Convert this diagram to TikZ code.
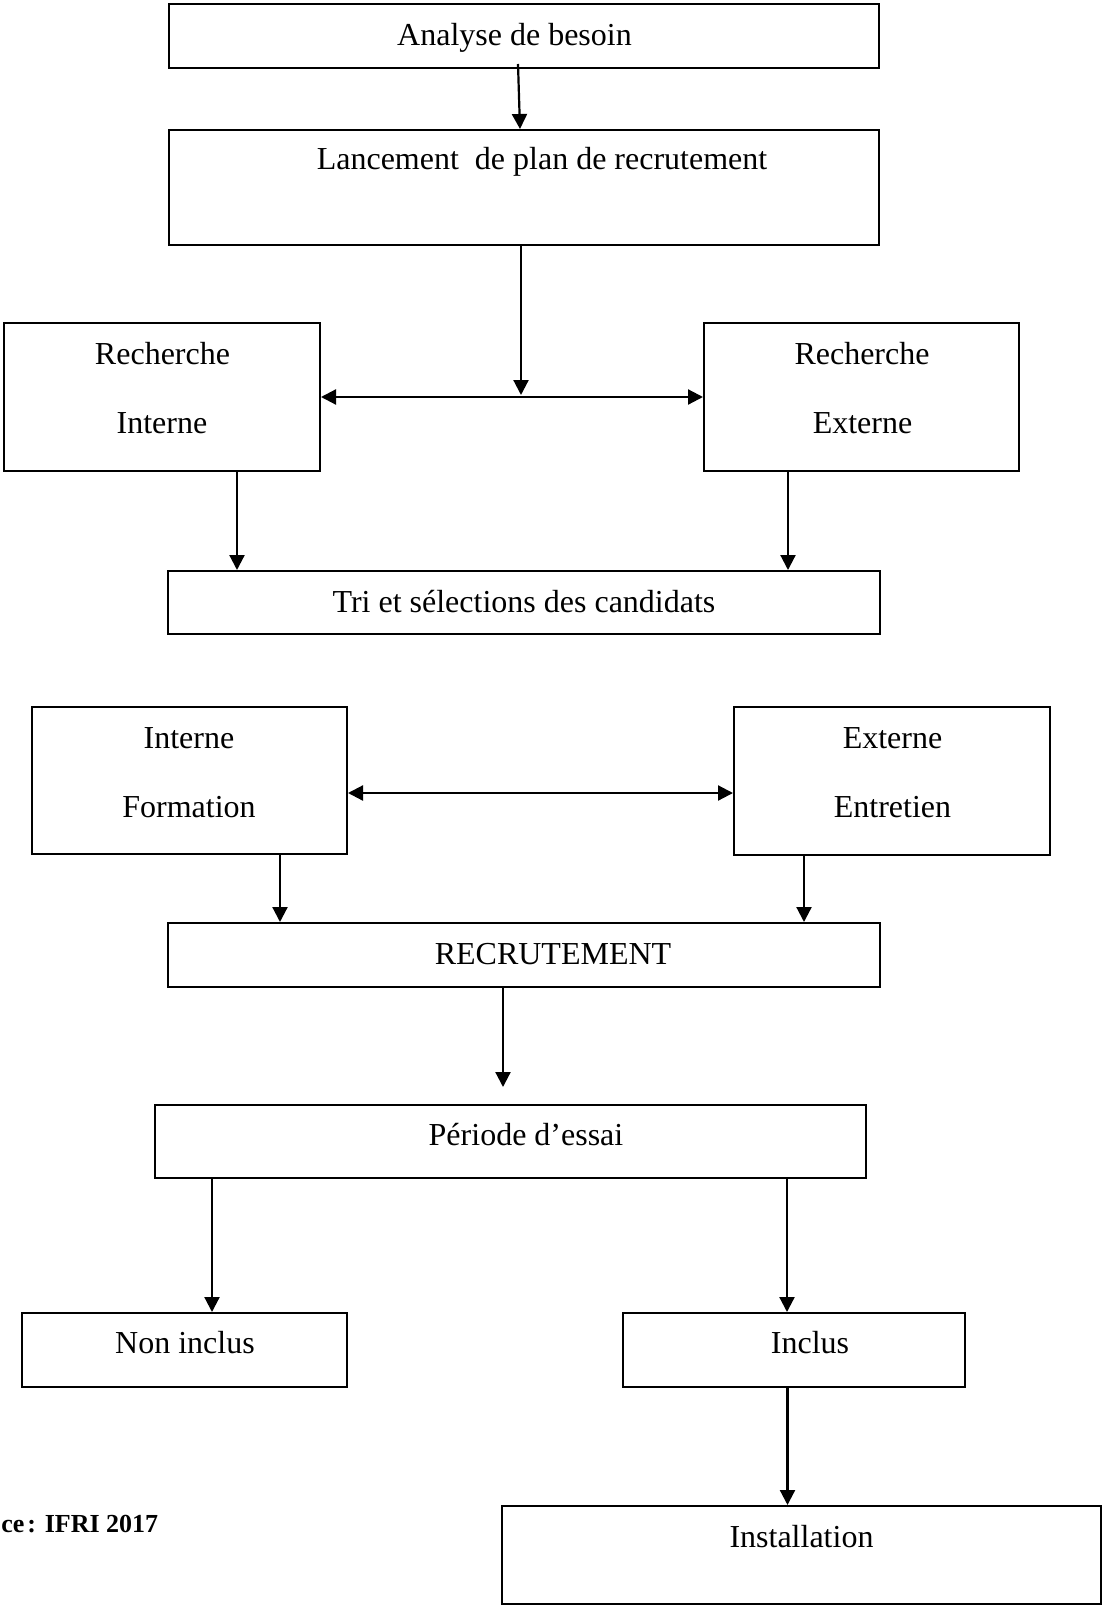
\documentclass[tikz,border=0pt]{standalone}
\usepackage{fontspec}
\setmainfont{Liberation Serif}
\usetikzlibrary{arrows.meta,calc}

\tikzset{
  box/.style={draw=black, line width=1pt, rectangle, inner sep=0pt, fill=white},
  txt/.style={inner sep=0pt, anchor=base, font=\fontsize{16pt}{19pt}\selectfont},
  src/.style={inner sep=0pt, anchor=base west, font=\fontsize{13pt}{16pt}\selectfont\bfseries},
  arr/.style={line width=1.1pt, -{Triangle[length=7.5pt,width=7.5pt]}},
  arrboth/.style={line width=1.1pt, {Triangle[length=7.5pt,width=7.5pt]}-{Triangle[length=7.5pt,width=7.5pt]}}
}

\begin{document}
\begin{tikzpicture}[x=0.5pt, y=-0.5pt]
\useasboundingbox (0,0) rectangle (1102,1605);
\clip (0,0) rectangle (1102,1605);
\fill[white] (0,0) rectangle (1102,1605);

% boxes
\node[box, minimum width=355pt, minimum height=32pt]   (ana)  at (524,36)     {};
\node[box, minimum width=355pt, minimum height=57.5pt] (lan)  at (524,187.5)  {};
\node[box, minimum width=158pt, minimum height=74pt]   (rint) at (162,397)    {};
\node[box, minimum width=157.5pt, minimum height=74pt] (rext) at (861.5,397)  {};
\node[box, minimum width=356pt, minimum height=31.5pt] (tri)  at (524,602.5)  {};
\node[box, minimum width=157.5pt, minimum height=73.5pt] (form) at (189.5,780.5) {};
\node[box, minimum width=158pt, minimum height=74pt]   (entr) at (892,781)    {};
\node[box, minimum width=356pt, minimum height=32pt]   (rec)  at (524,955)    {};
\node[box, minimum width=355.5pt, minimum height=36.5pt] (per) at (510.5,1141.5) {};
\node[box, minimum width=162.5pt, minimum height=37pt] (non)  at (184.5,1350)  {};
\node[box, minimum width=171pt, minimum height=37pt]   (inc)  at (794,1350)    {};
\node[box, minimum width=299.5pt, minimum height=49pt] (ins)  at (801.5,1555)  {};

% box texts
\node[txt] (ana-t)  at (514.5,46)  {Analyse de besoin};
\node[txt] (lan-t)  at (542,170)   {Lancement\ \ de plan de recrutement};
\node[txt] (rint-a) at (162.5,364) {Recherche};
\node[txt] (rint-b) at (162,433)   {Interne};
\node[txt] (rext-a) at (862,364)   {Recherche};
\node[txt] (rext-b) at (862.5,433) {Externe};
\node[txt] (tri-t)  at (524,612)   {Tri et sélections des candidats};
\node[txt] (form-a) at (189,748)   {Interne};
\node[txt] (form-b) at (189,817)   {Formation};
\node[txt] (entr-a) at (892.5,748) {Externe};
\node[txt] (entr-b) at (892.5,817) {Entretien};
\node[txt] (rec-t)  at (553,964)   {RECRUTEMENT};
\node[txt] (per-t)  at (526,1145)  {Période d’essai};
\node[txt] (non-t)  at (185,1353)  {Non inclus};
\node[txt] (inc-t)  at (810,1353)  {Inclus};
\node[txt] (ins-t)  at (801.5,1547) {Installation};

% source line
\node[src] (source) at (1,1532) {ce\kern1.5pt: IFRI 2017};

% vertical guides for the connectors
\coordinate (xa) at (519,0);
\coordinate (xj) at (521,0);
\coordinate (xi) at (237,0);
\coordinate (xe) at (788,0);
\coordinate (xf) at (280,0);
\coordinate (xn) at (804,0);
\coordinate (xr) at (503,0);
\coordinate (xl) at (212,0);
\coordinate (xp) at (787,0);
\coordinate (xs) at (787.5,0);
\coordinate (ym) at (0,793);
\coordinate (junc) at (521,395);

% connectors
\draw[arr] ($(ana.south -| xa)+(-1,-5)$) -- ($(lan.north -| xa)+(1,0)$);
\draw[arr] (lan.south -| xj) -- (junc);
\draw[arrboth] (rint.east) -- (rext.west);
\draw[arr] (rint.south -| xi) -- (tri.north -| xi);
\draw[arr] (rext.south -| xe) -- (tri.north -| xe);
\draw[arrboth] (form.east |- ym) -- (entr.west |- ym);
\draw[arr] (form.south -| xf) -- (rec.north -| xf);
\draw[arr] (entr.south -| xn) -- (rec.north -| xn);
\draw[arr] (rec.south -| xr) -- ($(per.north -| xr)+(0,-17)$);
\draw[arr] (per.south -| xl) -- (non.north -| xl);
\draw[arr] (per.south -| xp) -- (inc.north -| xp);
\draw[arr] (inc.south -| xs) -- (ins.north -| xs);
\end{tikzpicture}
\end{document}
